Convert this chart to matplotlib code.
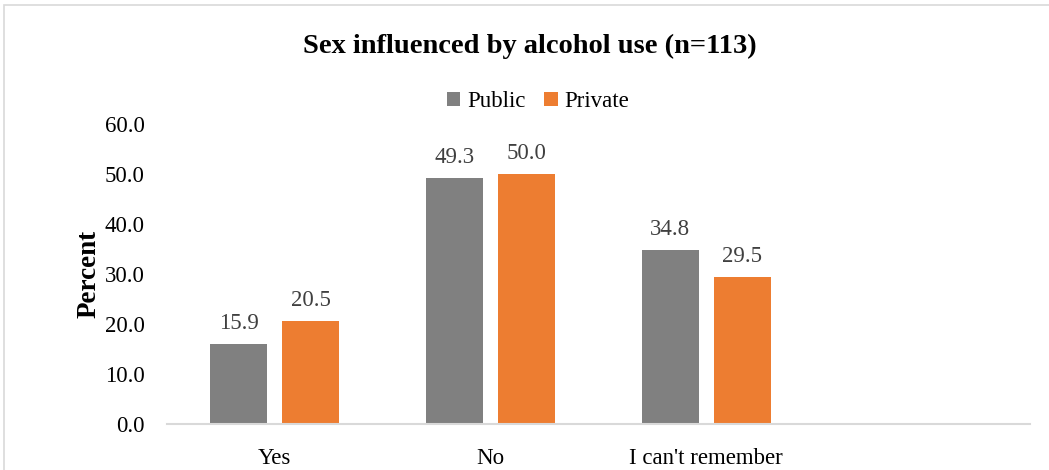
import numpy as np
import matplotlib
matplotlib.use("Agg")
import matplotlib.pyplot as plt
from matplotlib.patches import Rectangle

# ── DATA ───────────────────────────────────────────────────────────────────────
categories = ["Yes", "No", "I can't remember", ""]
public     = [15.9, 49.3, 34.8]
private    = [20.5, 50.0, 29.5]
series     = ["Public", "Private"]

GRAY   = "#808080"
ORANGE = "#ED7D31"

plt.rcParams.update({
    "font.family": ["Liberation Serif", "DejaVu Serif"],
    "font.size": 16,
})

fig = plt.figure(figsize=(10.49, 4.70), dpi=100)
ax = fig.add_axes([0.159, 0.098, 0.823, 0.638])

x = np.arange(len(categories))
w = 0.264
gap = 0.07
off = (w + gap) / 2
b1 = ax.bar(x[:len(public)] - off, public, w, color=GRAY, label=series[0])
b2 = ax.bar(x[:len(private)] + off, private, w, color=ORANGE, label=series[1])

for bars in (b1, b2):
    for bar in bars:
        ax.text(bar.get_x() + bar.get_width() / 2, bar.get_height() + 2.0,
                f"{bar.get_height():.1f}", ha="center", va="bottom",
                fontsize=16.5, color="#404040")

ax.set_xlim(-0.5, len(categories) - 0.5)
ax.set_ylim(0, 60)
ax.set_yticks(np.arange(0, 61, 10))
ax.set_yticklabels([f"{v:.1f}" for v in np.arange(0, 61, 10)])
ax.set_xticks(x)
ax.set_xticklabels(categories)
ax.tick_params(length=0, labelsize=16.5)
ax.tick_params(axis="x", pad=17)
ax.tick_params(axis="y", pad=16)

for s in ["top", "right", "left"]:
    ax.spines[s].set_visible(False)
ax.spines["bottom"].set_color("#D9D9D9")
ax.spines["bottom"].set_linewidth(1.5)

ax.set_ylabel("Percent", fontsize=19.5, fontweight="bold", labelpad=2)

fig.text(0.505, 0.902, "Sex influenced by alcohol use (n=113)",
         ha="center", va="center", fontsize=20.5, fontweight="bold")

ax.legend(loc="center", bbox_to_anchor=(0.43, 1.075), ncol=2, frameon=False,
          fontsize=16.5, handlelength=0.6, handleheight=0.6, handletextpad=0.3,
          columnspacing=0.8)

fig.patches.append(Rectangle((0.004, -0.05), 1.1, 1.04, transform=fig.transFigure,
                             fill=False, edgecolor="#D9D9D9", linewidth=1.2))

fig.savefig("out.png", dpi=100)
